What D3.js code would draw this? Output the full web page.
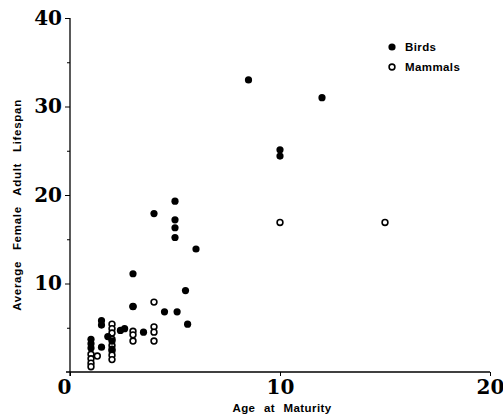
<!DOCTYPE html>
<html>
<head>
<meta charset="utf-8">
<script src="https://cdn.jsdelivr.net/npm/d3@7"></script>
<style>
  body { margin: 0; background: #fff; }
  .tick text { font-family: "DejaVu Serif", serif; font-weight: bold; font-size: 20px; fill: #000; }
  .title { font-family: "Liberation Sans", Arial, sans-serif; font-weight: bold; font-size: 11.5px; word-spacing: 5px; letter-spacing: 0.4px; }
  .ytitle { word-spacing: 7px; letter-spacing: 0.7px; }
</style>
</head>
<body>
<div id="chart"></div>
<script>
// data
var birdAge  = [1.0, 1.0, 1.0, 1.5, 1.5, 1.5, 1.8, 2.0, 2.0, 2.4, 2.6, 3.0, 3.0, 3.5, 4.0, 4.5, 5.0, 5.0, 5.0, 5.0, 5.1, 5.5, 5.6, 6.0, 8.5, 10, 10, 12];
var birdLife = [3.7, 3.2, 2.7, 5.8, 5.3, 2.8, 4.0, 3.5, 2.6, 4.7, 4.9, 7.4, 11.1, 4.5, 17.9, 6.8, 19.3, 17.2, 16.3, 15.2, 6.8, 9.2, 5.4, 13.9, 33.0, 25.1, 24.4, 31.0];

var mammalAge  = [1.0, 1.0, 1.0, 1.0, 1.3, 2.0, 2.0, 2.0, 2.0, 2.0, 2.0, 2.0, 2.0, 3.0, 3.0, 3.0, 3.0, 4.0, 4.0, 4.0, 4.0, 10, 15];
var mammalLife = [2.0, 1.5, 1.0, 0.6, 1.8, 5.4, 4.9, 4.4, 3.7, 3.0, 2.4, 1.9, 1.4, 7.4, 4.6, 4.2, 3.5, 7.9, 5.1, 4.5, 3.5, 16.9, 16.9];

var xTicks = [0, 10, 20];
var yTicks = [10, 20, 30, 40];
var yMinor = [5, 15, 25, 35];
var seriesNames = ["Birds", "Mammals"];

var svgWidth = 503;
var svgHeight = 420;

var svg = d3.select("#chart")
  .append("svg")
  .attr("width", svgWidth)
  .attr("height", svgHeight);

var xScale = d3.scaleLinear().domain([0, 20]).range([70, 490]);
var yScale = d3.scaleLinear().domain([0, 40]).range([372, 18]);

var birds = birdAge.map((a, i) => ({ x: a, y: birdLife[i] }));
var mammals = mammalAge.map((a, i) => ({ x: a, y: mammalLife[i] }));

// x axis
var xAxis = svg.append("g")
  .attr("transform", `translate(0, ${yScale(0)})`)
  .call(d3.axisBottom(xScale).tickValues(xTicks).tickSize(4).tickPadding(4).tickFormat(d3.format("d")));
xAxis.select(".domain").attr("d", `M${xScale(0) - 4},0H${xScale(20)}`).attr("stroke", "#000").attr("stroke-width", 1.3);
xAxis.selectAll(".tick line").attr("stroke", "#000");
xAxis.selectAll(".tick text").filter(d => d === 0).attr("dx", -6);

// y axis
var yAxis = svg.append("g")
  .attr("transform", `translate(${xScale(0)}, 0)`)
  .call(d3.axisLeft(yScale).tickValues(yTicks).tickSize(5).tickPadding(3).tickFormat(d3.format("d")));
yAxis.select(".domain").attr("d", `M0,${yScale(0) + 4}V${yScale(40)}`).attr("stroke", "#000").attr("stroke-width", 1.3);
yAxis.selectAll(".tick line").attr("stroke", "#000");

svg.append("g")
  .attr("transform", `translate(${xScale(0)}, 0)`)
  .call(d3.axisLeft(yScale).tickValues(yMinor).tickSize(3).tickFormat(""))
  .call(g => g.select(".domain").remove());

// points
svg.append("g").selectAll("circle")
  .data(mammals)
  .enter()
  .append("circle")
  .attr("cx", d => xScale(d.x))
  .attr("cy", d => yScale(d.y))
  .attr("r", 2.9)
  .attr("fill", "#fff")
  .attr("stroke", "#000")
  .attr("stroke-width", 1.6);

svg.append("g").selectAll("circle")
  .data(birds)
  .enter()
  .append("circle")
  .attr("cx", d => xScale(d.x))
  .attr("cy", d => yScale(d.y))
  .attr("r", 3.6)
  .attr("fill", "#000");

// axis titles
svg.append("text")
  .attr("class", "title")
  .attr("x", 282)
  .attr("y", 412)
  .attr("text-anchor", "middle")
  .text("Age at Maturity");

svg.append("text")
  .attr("class", "title ytitle")
  .attr("transform", "rotate(-90)")
  .attr("x", -205)
  .attr("y", 21)
  .attr("text-anchor", "middle")
  .text("Average Female Adult Lifespan");

// legend
var legend = svg.append("g").attr("transform", "translate(392, 47)");
seriesNames.forEach(function(name, i) {
  var row = legend.append("g").attr("transform", `translate(0, ${i * 20})`);
  row.append("circle")
    .attr("r", i === 0 ? 3.6 : 2.9)
    .attr("fill", i === 0 ? "#000" : "#fff")
    .attr("stroke", "#000")
    .attr("stroke-width", i === 0 ? 0 : 1.6);
  row.append("text")
    .attr("class", "title")
    .attr("x", 13)
    .attr("dy", "0.35em")
    .text(name);
});
</script>
</body>
</html>
